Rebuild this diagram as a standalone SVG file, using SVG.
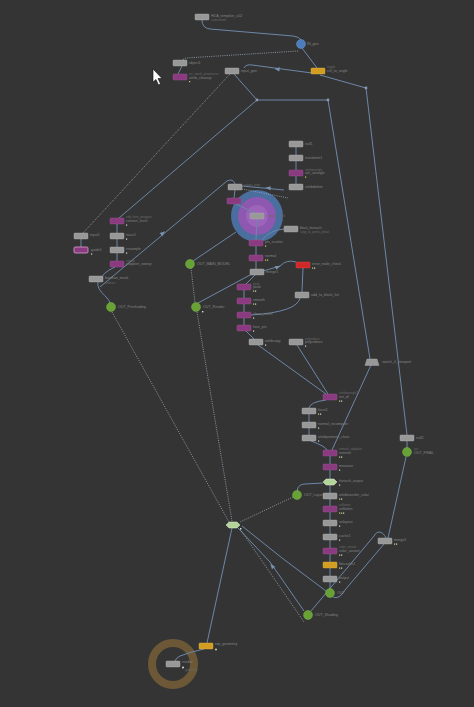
<svg xmlns="http://www.w3.org/2000/svg" xmlns:xlink="http://www.w3.org/1999/xlink" width="474" height="707" viewBox="0 0 474 707">
<style>
.c{fill:none;stroke:#6d87a8;stroke-width:1}
.d{fill:none;stroke:#a0acbb;stroke-width:0.8;stroke-dasharray:1 1.2}
.g{fill:#989898;stroke:#b4b4b4;stroke-width:0.4}
.m{fill:#8a3b80;stroke:#a3579a;stroke-width:0.4}
.y{fill:#d29e22;stroke:#e2b848;stroke-width:0.4}
.r{fill:#d02828;stroke:#e84c4c;stroke-width:0.4}
.h{fill:#b4d59a;stroke:#dceecd;stroke-width:0.5}
.gc{fill:#68a136;stroke:#7bb347;stroke-width:0.5}
.t{font-family:"Liberation Sans",Arial,sans-serif;font-size:3.6px;fill:#858585}
.s{font-family:"Liberation Sans",Arial,sans-serif;font-size:3px;fill:#6a6a6a}
.f{fill:#c8d860}
.w{fill:#dcdcdc}
.dot{fill:#8a9bb2}
.a{fill:#7a92b0}
</style>
<defs>
<path id="arr" d="M-2.6,-2.1 L2.6,0 L-2.6,2.1 Z"/>
<rect id="gb" x="-7" y="-3" width="14" height="6" rx="0.8"/>
<polygon id="hx" points="-7,0 -4,-3 4,-3 7,0 4,3 -4,3"/>
</defs>
<rect width="474" height="707" fill="#343434"/>

<g id="bigcircle">
<circle cx="257" cy="216" r="26" fill="#4c74a8" opacity="0.9"/>
<circle cx="257" cy="216" r="19" fill="#8f58b0"/>
<circle cx="257" cy="216" r="11" fill="#a56cc2" opacity="0.6"/>
</g>
<g id="orangering">
<circle cx="173" cy="664" r="21" fill="none" stroke="#6c5837" stroke-width="8"/>
</g>

<g id="connectors">
<path class="c" d="M202,20 Q202,28 210,29 L293,36 Q300,37 301,40"/>
<path class="c" d="M302,48 L317,68"/>
<path class="d" d="M298,51 L186,58 L182,60"/>
<path class="c" d="M182,66 L178,74"/>
<path class="c" d="M312,73 L252,65 Q246,64 244,68"/>
<path class="c" d="M320,75 L366,88"/>
<path class="c" d="M234,74 L257,100"/>
<path class="c" d="M257,100 L328,100"/>
<path class="c" d="M257,100 L119,218"/>
<path class="d" d="M230,74 L83,233"/>
<path class="c" d="M366,88 L407,435"/>
<path class="c" d="M328,100 L370,359"/>
<path class="c" d="M371,365 L332,450"/>
<path class="c" d="M407,441 L407,448"/>
<path class="c" d="M406,457 L388,538"/>
<path class="c" d="M384,544 L345,590 Q339,600 333,597"/>
<path class="c" d="M386,538 C383,531 377,530 374,536 L311,611"/>
<path class="c" d="M296,147 L296,155 M296,161 L296,170 M296,176 L296,184"/>
<path class="c" d="M242,186 L284,190"/>
<path class="d" d="M242,189 L288,198"/>
<path class="c" d="M235,190 L234,198"/>
<path class="c" d="M236,204 L255,213"/>
<path class="c" d="M257,219 L256,240"/>
<path class="c" d="M284,229 Q270,230 262,240"/>
<path class="c" d="M256,246 L256,255 M256,261 L256,269"/>
<path class="c" d="M255,275 L246,284 M244,290 L244,298 M244,304 L244,312 M244,318 L244,325 M246,331 L254,339"/>
<path class="c" d="M303,268 L302,292"/>
<path class="c" d="M300,298 Q297,312 251,315"/>
<path class="c" d="M198,303 L250,275 L280,266 Q287,259 296,262"/>
<path class="c" d="M193,261 L236,232"/>
<path class="d" d="M191,268 L195,303"/>
<path class="c" d="M258,345 L326,394"/>
<path class="c" d="M297,345 L328,394"/>
<path class="c" d="M326,400 Q310,402 309,408 M309,414 L309,422 M309,428 L309,435 M311,441 Q325,446 327,450"/>
<path class="c" d="M330,456 L330,464 M330,470 L330,479 M330,485 L330,493 M330,499 L330,506 M330,512 L330,520 M330,526 L330,534 M330,540 L330,548 M330,554 L330,562 M330,568 L330,576 M330,582 L330,589"/>
<path class="c" d="M297,491 Q298,484 305,484 L323,483"/>
<path class="d" d="M293,497 L240,522"/>
<path class="c" d="M100,287 L227,181 Q233,178 235,184"/>
<path class="c" d="M117,224 L117,233 M117,239 L117,247 M117,253 L117,261"/>
<path class="c" d="M115,267 Q101,273 100,282"/>
<path class="c" d="M98,282 C96,291 108,296 110,303"/>
<path class="c" d="M81,239 L81,247"/>
<path class="d" d="M112,312 L229,522"/>
<path class="d" d="M197,312 L232,521"/>
<path class="c" d="M232,528 L207,643"/>
<path class="c" d="M204,649 Q190,652 180,656 Q176,658 175,661"/>
<path class="c" d="M238,528 L270,562 L304,611"/>
<path class="d" d="M240,529 L304,622"/>
<path class="c" d="M242,526 L282,558 L326,591"/>
<circle class="dot" cx="257" cy="100" r="1.4"/>
<circle class="dot" cx="328" cy="100" r="1.4"/>
<circle class="dot" cx="366" cy="88" r="1.4"/>
<use xlink:href="#arr" class="a" transform="translate(277,69) rotate(188)"/>
<use xlink:href="#arr" class="a" transform="translate(268,188) rotate(185)"/>
<use xlink:href="#arr" class="a" transform="translate(163,233) rotate(-40)"/>
<use xlink:href="#arr" class="a" transform="translate(278,267) rotate(-20)"/>
<use xlink:href="#arr" class="a" transform="translate(272,566) rotate(232)"/>
</g>

<g id="n_G1"><use xlink:href="#gb" class="g" x="202" y="17"/><text class="t" x="211" y="16.5">HDA_template_v02</text><text class="s" x="211" y="21">subnetwork</text></g>
<g id="n_blue"><circle cx="301" cy="44" r="4.5" fill="#4d7cbc" stroke="#6a96d0" stroke-width="0.5"/><text class="t" x="307" y="45">IN_geo</text></g>
<g id="n_G2"><use xlink:href="#gb" class="g" x="180" y="63"/><text class="t" x="189" y="64">object1</text></g>
<g id="n_M1"><use xlink:href="#gb" class="m" x="180" y="77"/><text class="s" x="189" y="74.5">src_mesh_preprocess</text><text class="t" x="189" y="78.5">attrib_cleanup</text><rect class="f" x="189" y="81" width="1.2" height="1.2"/></g>
<g id="n_Y1"><use xlink:href="#gb" class="y" x="318" y="71"/><text class="s" x="327" y="68">toggle</text><text class="t" x="327" y="72">ctrl_to_angle</text></g>
<g id="n_G3"><use xlink:href="#gb" class="g" x="232" y="71"/><text class="t" x="241" y="72">input_geo</text></g>

<g id="n_G4"><use xlink:href="#gb" class="g" x="296" y="144"/><text class="t" x="305" y="145">null1</text></g>
<g id="n_G5"><use xlink:href="#gb" class="g" x="296" y="158"/><text class="t" x="305" y="159">transform1</text></g>
<g id="n_M2"><use xlink:href="#gb" class="m" x="296" y="173"/><text class="s" x="305" y="170.5">attribwrangle</text><text class="t" x="305" y="174">attr_wrangle</text><rect class="f" x="305" y="176.5" width="1.2" height="1.2"/></g>
<g id="n_G6"><use xlink:href="#gb" class="g" x="296" y="187"/><text class="t" x="305" y="188">attribdelete</text></g>
<g id="n_G7"><use xlink:href="#gb" class="g" x="235" y="187"/><text class="s" x="244" y="186">output_prep</text></g>
<g id="n_M3"><use xlink:href="#gb" class="m" x="234" y="201"/></g>
<g id="n_G8"><use xlink:href="#gb" class="g" x="257" y="216"/><text class="s" x="266" y="217">compile_block</text></g>
<g id="n_G9"><use xlink:href="#gb" class="g" x="291" y="229"/><text class="t" x="300" y="228.5">blast_foreach</text><text class="s" x="300" y="233">copy_to_points_detail</text></g>
<g id="n_M4"><use xlink:href="#gb" class="m" x="256" y="243"/><text class="t" x="265" y="243">pts_scatter</text><rect class="f" x="265" y="245.5" width="1.2" height="1.2"/></g>
<g id="n_M5"><use xlink:href="#gb" class="m" x="256" y="258"/><text class="t" x="265" y="257">normal</text><rect class="f" x="265" y="259.5" width="1.2" height="1.2"/><rect class="f" x="267" y="259.5" width="1.2" height="1.2"/></g>
<g id="n_G10"><use xlink:href="#gb" class="g" x="257" y="272"/><text class="t" x="266" y="273">merge1</text></g>
<g id="n_R1"><use xlink:href="#gb" class="r" x="303" y="265"/><text class="t" x="312" y="265">error_node_check</text><rect class="f" x="312" y="267.5" width="1.2" height="1.2"/><rect class="w" x="314" y="267.5" width="1.2" height="1.2"/></g>
<g id="n_G11"><use xlink:href="#gb" class="g" x="302" y="295"/><text class="t" x="311" y="296">add_to_block_list</text></g>
<g id="n_M6"><use xlink:href="#gb" class="m" x="244" y="287"/><text class="s" x="253" y="284.5">peak</text><text class="t" x="253" y="288">peak</text><rect class="f" x="253" y="290.5" width="1.2" height="1.2"/><rect class="w" x="255" y="290.5" width="1.2" height="1.2"/></g>
<g id="n_M7"><use xlink:href="#gb" class="m" x="244" y="301"/><text class="t" x="253" y="301">smooth</text><rect class="f" x="253" y="303.5" width="1.2" height="1.2"/><rect class="w" x="255" y="303.5" width="1.2" height="1.2"/></g>
<g id="n_M8"><use xlink:href="#gb" class="m" x="244" y="315"/><text class="t" x="253" y="315">clean_mesh</text><rect class="w" x="253" y="317.5" width="1.2" height="1.2"/></g>
<g id="n_M9"><use xlink:href="#gb" class="m" x="244" y="328"/><text class="t" x="253" y="328">fuse_pts</text><rect class="w" x="253" y="330.5" width="1.2" height="1.2"/></g>
<g id="n_G12"><use xlink:href="#gb" class="g" x="256" y="342"/><text class="t" x="265" y="342">attribcopy</text><rect class="w" x="265" y="344.5" width="1.2" height="1.2"/></g>
<g id="n_G13"><use xlink:href="#gb" class="g" x="296" y="342"/><text class="s" x="305" y="339.5">polyreduce</text><text class="t" x="305" y="343">polyreduce</text><rect class="w" x="305" y="345.5" width="1.2" height="1.2"/></g>

<g id="n_M10"><use xlink:href="#gb" class="m" x="117" y="221"/><text class="s" x="126" y="218">vdb_from_polygons</text><text class="t" x="126" y="222">convert_level</text><rect class="w" x="126" y="224.5" width="1.2" height="1.2"/></g>
<g id="n_G14"><use xlink:href="#gb" class="g" x="81" y="236"/><text class="t" x="90" y="236">input1</text></g>
<g id="n_G15"><use xlink:href="#gb" class="g" x="117" y="236"/><text class="t" x="126" y="236">trace1</text><rect class="w" x="126" y="238.5" width="1.2" height="1.2"/></g>
<g id="n_M12"><rect x="74" y="247" width="14" height="6" rx="1.2" fill="#8a3b80" stroke="#e0a0d0" stroke-width="0.8"/><text class="t" x="91" y="251">guide1</text><rect class="w" x="91" y="253.5" width="1.2" height="1.2"/></g>
<g id="n_G16"><use xlink:href="#gb" class="g" x="117" y="250"/><text class="t" x="126" y="250">resample</text><rect class="w" x="126" y="252.5" width="1.2" height="1.2"/></g>
<g id="n_M11"><use xlink:href="#gb" class="m" x="117" y="264"/><text class="s" x="126" y="261.5">sweep</text><text class="t" x="126" y="265">polywire_sweep</text></g>
<g id="n_G17"><use xlink:href="#gb" class="g" x="96" y="279"/><text class="t" x="105" y="279">boolean_mask</text><text class="s" x="105" y="283.5">subtract</text></g>
<g id="n_O1"><circle class="gc" cx="111" cy="307" r="4.5"/><text class="t" x="118" y="308">OUT_Preshading</text></g>
<g id="n_O2"><circle class="gc" cx="190" cy="264" r="4.5"/><text class="t" x="197" y="265">OUT_MAIN_MODEL</text></g>
<g id="n_O3"><circle class="gc" cx="196" cy="307" r="4.5"/><text class="t" x="203" y="308">OUT_Render</text><rect class="w" x="202" y="311" width="1.4" height="1.4"/></g>

<g id="n_T1"><polygon class="g" points="365,365.5 379,365.5 377,359 367,359"/><text class="t" x="382" y="363">switch_if_viewport</text></g>
<g id="n_M13"><use xlink:href="#gb" class="m" x="330" y="397"/><text class="s" x="339" y="394">attribwrangle2</text><text class="t" x="339" y="398">set_id</text><rect class="f" x="339" y="400.5" width="1.2" height="1.2"/><rect class="w" x="341" y="400.5" width="1.2" height="1.2"/></g>
<g id="n_G18"><use xlink:href="#gb" class="g" x="309" y="411"/><text class="t" x="318" y="411">facet1</text><rect class="f" x="318" y="413.5" width="1.2" height="1.2"/><rect class="w" x="320" y="413.5" width="1.2" height="1.2"/></g>
<g id="n_G19"><use xlink:href="#gb" class="g" x="309" y="425"/><text class="t" x="318" y="425">normal_recompute</text><rect class="w" x="318" y="427.5" width="1.2" height="1.2"/></g>
<g id="n_G20"><use xlink:href="#gb" class="g" x="309" y="438"/><text class="t" x="318" y="438">attribpromote_class</text><rect class="w" x="318" y="440.5" width="1.2" height="1.2"/></g>
<g id="n_M14"><use xlink:href="#gb" class="m" x="330" y="453"/><text class="s" x="339" y="450">remesh_adaptive</text><text class="t" x="339" y="454">remesh</text><rect class="f" x="339" y="456.5" width="1.2" height="1.2"/><rect class="w" x="341" y="456.5" width="1.2" height="1.2"/></g>
<g id="n_M15"><use xlink:href="#gb" class="m" x="330" y="467"/><text class="t" x="339" y="467">measure</text><rect class="w" x="339" y="469.5" width="1.2" height="1.2"/></g>
<g id="n_H1"><use xlink:href="#hx" class="h" x="330" y="482"/><text class="t" x="339" y="482">foreach_output</text><rect class="w" x="339" y="484.5" width="1.2" height="1.2"/></g>
<g id="n_G21"><use xlink:href="#gb" class="g" x="330" y="496"/><text class="t" x="339" y="496">attribtransfer_color</text><rect class="f" x="339" y="498.5" width="1.2" height="1.2"/><rect class="w" x="341" y="498.5" width="1.2" height="1.2"/></g>
<g id="n_O4"><circle class="gc" cx="297" cy="495" r="4.5"/><text class="t" x="304" y="496">OUT_Layer</text></g>
<g id="n_M16"><use xlink:href="#gb" class="m" x="330" y="509"/><text class="s" x="339" y="506">uvflatten</text><text class="t" x="339" y="510">uvflatten</text><rect class="f" x="339" y="512.5" width="1.2" height="1.2"/><rect class="f" x="341" y="512.5" width="1.2" height="1.2"/><rect class="w" x="343" y="512.5" width="1.2" height="1.2"/></g>
<g id="n_G22"><use xlink:href="#gb" class="g" x="330" y="523"/><text class="t" x="339" y="523">uvlayout</text><rect class="w" x="339" y="525.5" width="1.2" height="1.2"/></g>
<g id="n_G23"><use xlink:href="#gb" class="g" x="330" y="537"/><text class="t" x="339" y="537">cache1</text><rect class="w" x="339" y="539.5" width="1.2" height="1.2"/></g>
<g id="n_M17"><use xlink:href="#gb" class="m" x="330" y="551"/><text class="s" x="339" y="548">color_variant</text><text class="t" x="339" y="552">color_variant</text><rect class="f" x="339" y="554.5" width="1.2" height="1.2"/><rect class="w" x="341" y="554.5" width="1.2" height="1.2"/></g>
<g id="n_Y2"><use xlink:href="#gb" class="y" x="330" y="565"/><text class="t" x="339" y="565">filecache1</text><rect class="f" x="339" y="567.5" width="1.2" height="1.2"/><rect class="w" x="341" y="567.5" width="1.2" height="1.2"/></g>
<g id="n_G24"><use xlink:href="#gb" class="g" x="330" y="579"/><text class="t" x="339" y="579">output</text><rect class="w" x="339" y="581.5" width="1.2" height="1.2"/></g>
<g id="n_O5"><circle class="gc" cx="330" cy="593" r="4.5"/><text class="t" x="337" y="594">OUT</text></g>
<g id="n_O6"><circle class="gc" cx="308" cy="615" r="4.5"/><text class="t" x="315" y="616">OUT_Shading</text></g>
<g id="n_G25"><use xlink:href="#gb" class="g" x="385" y="541"/><text class="t" x="394" y="541">merge2</text><rect class="f" x="394" y="543.5" width="1.2" height="1.2"/><rect class="w" x="396" y="543.5" width="1.2" height="1.2"/></g>
<g id="n_G26"><use xlink:href="#gb" class="g" x="407" y="438"/><text class="t" x="416" y="439">null2</text></g>
<g id="n_O7"><circle class="gc" cx="407" cy="452" r="4.5"/><text class="s" x="414" y="450">out</text><text class="t" x="414" y="454">OUT_FINAL</text></g>

<g id="n_H2"><use xlink:href="#hx" class="h" x="233" y="525"/><rect class="w" x="240" y="528" width="1.4" height="1.4"/></g>
<g id="n_Y3"><use xlink:href="#gb" class="y" x="206" y="646"/><text class="t" x="215" y="645">rop_geometry</text><circle cx="216" cy="649.5" r="0.9" fill="#d8e8b0"/></g>
<g id="n_G27"><use xlink:href="#gb" class="g" x="173" y="664"/><text class="t" x="182" y="663">render</text><circle cx="183" cy="667.5" r="0.9" fill="#e8e8e8"/><text class="s" x="185" y="671">geometry</text></g>

<path d="M153,69 L153,82 L156,79.5 L158.5,85 L160.5,84 L158,78.5 L162,78.5 Z" fill="#ffffff" stroke="#111111" stroke-width="0.6"/>
</svg>
